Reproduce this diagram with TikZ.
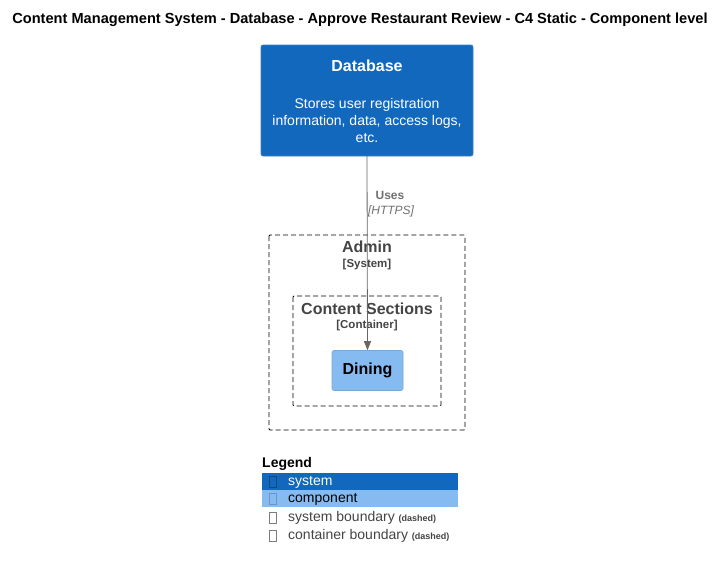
\documentclass[tikz,border=0pt]{standalone}
\usepackage{fontspec}
\setmainfont{Liberation Sans}
\usepackage{tikz}
\usetikzlibrary{arrows.meta}
\definecolor{systemblue}{HTML}{1168BD}
\definecolor{systemline}{HTML}{3C7FC0}
\definecolor{componentblue}{HTML}{85BBF0}
\definecolor{componentline}{HTML}{78A8D8}
\definecolor{relgray}{HTML}{666666}
\definecolor{labelgray}{HTML}{707070}
\definecolor{boundgray}{HTML}{444444}
\tikzstyle{systembox} = [rectangle, rounded corners=2pt, fill=systemblue, draw=systemline, line width=0.6pt, text=white]
\tikzstyle{componentbox} = [rectangle, rounded corners=2pt, fill=componentblue, draw=componentline, line width=0.6pt, text=black]
\tikzstyle{boundary} = [rectangle, rounded corners=1pt, draw=black, dash pattern=on 5pt off 3pt, line width=0.8pt]
\tikzstyle{arrow} = [draw=relgray, line width=0.8pt, -{Triangle[length=9pt, width=7pt]}]
\tikzstyle{legendtag} = [rectangle, draw=boundgray!70, line width=0.5pt, minimum width=7pt, minimum height=11pt, inner sep=0pt]
\begin{document}
\begin{tikzpicture}[x=1pt, y=-1pt]
      \useasboundingbox (0, 0) rectangle (727, 568);
      \node (title) at (360, 20) [font=\fontsize{14.6}{17}\selectfont\bfseries] {Content Management System - Database - Approve Restaurant Review - C4 Static - Component level};
      % database
      \path[systembox] (261, 45) rectangle (473, 156);
      \coordinate (dbbot) at (367, 156);
      \node (dbname) at (367, 66) [text=white, font=\fontsize{16}{19}\selectfont\bfseries] {Database};
      \node (dbdesc) at (367, 120) [text=white, align=center, font=\fontsize{14}{17}\selectfont] {Stores user registration\\ information, data, access logs,\\ etc.};
      % boundaries
      \draw[boundary] (269, 235) rectangle (465, 430);
      \node (admin) at (367, 247) [text=boundgray, font=\fontsize{16}{19}\selectfont\bfseries] {Admin};
      \node (admintype) at (367, 265) [text=boundgray, font=\fontsize{11.5}{13}\selectfont\bfseries] {[System]};
      \draw[boundary] (293, 296) rectangle (441, 406);
      \node (sections) at (367, 309) [text=boundgray, font=\fontsize{16}{19}\selectfont\bfseries] {Content Sections};
      \node (sectionstype) at (367, 326) [text=boundgray, font=\fontsize{11.5}{13}\selectfont\bfseries] {[Container]};
      % component
      \node (dining) at (367.5, 370.5) [componentbox, minimum width=71pt, minimum height=40pt, font=\fontsize{16}{19}\selectfont\bfseries] {Dining};
      % relation
      \draw[arrow] (dbbot) -- (dining.north);
      \node (uses) at (390, 195) [text=labelgray, font=\fontsize{12}{14}\selectfont\bfseries] {Uses};
      \node (https) at (391, 211) [text=labelgray, font=\fontsize{12}{14}\selectfont\itshape] {[HTTPS]};
      % legend
      \node (legend) at (262, 464) [anchor=west, inner sep=0pt, font=\fontsize{14}{16}\selectfont\bfseries] {Legend};
      \fill[systemblue] (262, 473) rectangle (458, 490);
      \fill[componentblue] (262, 490) rectangle (458, 507);
      \node (tagsys) at (273, 482) [legendtag, draw=systemblue!70!black] {};
      \node (lsys) at (288, 482) [anchor=west, inner sep=0pt, text=white, font=\fontsize{14}{16}\selectfont] {system};
      \node (tagcomp) at (273, 499) [legendtag, draw=componentblue!80!black] {};
      \node (lcomp) at (288, 499) [anchor=west, inner sep=0pt, text=black, font=\fontsize{14}{16}\selectfont] {component};
      \node (tagsb) at (273, 518) [legendtag] {};
      \node (lsb) at (288, 518) [anchor=west, inner sep=0pt, text=boundgray, font=\fontsize{14}{16}\selectfont] {system boundary {\fontsize{9}{10}\selectfont\bfseries (dashed)}};
      \node (tagcb) at (273, 536) [legendtag] {};
      \node (lcb) at (288, 536) [anchor=west, inner sep=0pt, text=boundgray, font=\fontsize{14}{16}\selectfont] {container boundary {\fontsize{9}{10}\selectfont\bfseries (dashed)}};
\end{tikzpicture}
\end{document}
